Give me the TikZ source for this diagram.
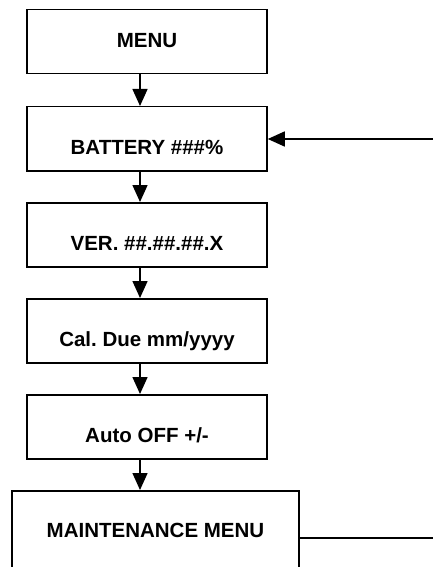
\documentclass[tikz,border=0pt]{standalone}
\usepackage{fontspec}
\setmainfont{Liberation Sans}
\usetikzlibrary{arrows.meta}
\frenchspacing
\begin{document}
\begin{tikzpicture}[x=1bp,y=-1bp,
  every node/.style={font=\fontsize{20.5bp}{24bp}\selectfont\bfseries},
  box/.style={draw,line width=1.5bp,rectangle,inner sep=0pt,minimum width=240bp,
     text height=47.5bp,text depth=16.5bp,anchor=north},
  arr/.style={line width=1.5bp,-{Triangle[length=17bp,width=15bp]}},
  plain/.style={line width=1.5bp}]
\useasboundingbox (0,0) rectangle (433,567);
\clip (0,0) rectangle (433,567);
\node[box,text height=37.5bp,text depth=26.5bp] (menu) at (147,9) {MENU};
\node[box] (bat) at (147,106) {BATTERY \#\#\#\%};
\node[box] (ver) at (147,202) {VER. \#\#.\#\#.\#\#.X};
\node[box] (cal) at (147,298) {Cal. Due mm/yyyy};
\node[box] (auto) at (147,394) {Auto OFF +/-};
\node[box,minimum width=287bp,text height=47bp,text depth=40bp] (maint) at (155.5,490) {MAINTENANCE MENU};
\coordinate (ax) at (140,0);
\coordinate (br) at (433,139);
\coordinate (mr) at (433,538);
\draw[arr] (menu.south -| ax) -- (bat.north -| ax);
\draw[arr] (bat.south -| ax) -- (ver.north -| ax);
\draw[arr] (ver.south -| ax) -- (cal.north -| ax);
\draw[arr] (cal.south -| ax) -- (auto.north -| ax);
\draw[arr] (auto.south -| ax) -- (maint.north -| ax);
\draw[arr] (br) -- (bat.east |- br);
\draw[plain] (maint.east |- mr) -- (mr);
\end{tikzpicture}
\end{document}
